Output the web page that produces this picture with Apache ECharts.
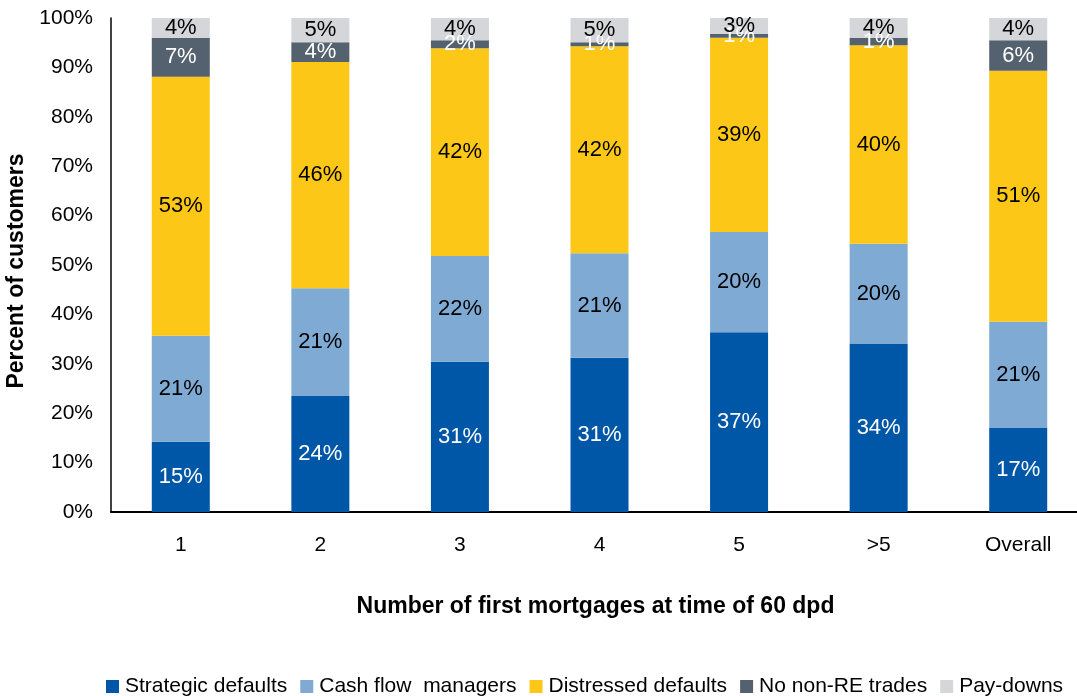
<!DOCTYPE html>
<html>
<head>
<meta charset="utf-8">
<script src="https://cdn.jsdelivr.net/npm/echarts@6/dist/echarts.min.js"></script>
<style>
  html, body { margin: 0; padding: 0; background: #fff; }
  #chart { width: 1077px; height: 696px; }
</style>
</head>
<body>
<div id="chart"></div>
<script>
    var categories = ['1', '2', '3', '4', '5', '>5', 'Overall'];

    // segment heights as drawn
    var strategic   = [14.2, 23.5, 30.4, 31.2, 36.4, 34.1, 17.1];
    var cashFlow    = [21.5, 21.8, 21.4, 21.2, 20.3, 20.2, 21.4];
    var distressed  = [52.4, 45.8, 42.1, 41.9, 39.3, 40.2, 50.8];
    var noNonRE     = [7.9, 4.0, 1.6, 0.8, 0.8, 1.5, 6.2];
    var payDowns    = [4.0, 4.9, 4.5, 4.9, 3.2, 4.0, 4.5];

    // printed percentages
    var strategicLabels  = [15, 24, 31, 31, 37, 34, 17];
    var cashFlowLabels   = [21, 21, 22, 21, 20, 20, 21];
    var distressedLabels = [53, 46, 42, 42, 39, 40, 51];
    var noNonRELabels    = [7, 4, 2, 1, 1, 1, 6];
    var payDownsLabels   = [4, 5, 4, 5, 3, 4, 4];

    var yTicks = [0, 10, 20, 30, 40, 50, 60, 70, 80, 90, 100];

    var FONT = 'Arial, "Liberation Sans", sans-serif';

    function makeSeries(name, values, labels, color, labelColor) {
        return {
            name: name,
            type: 'bar',
            stack: 'total',
            barWidth: 58,
            data: values,
            itemStyle: { color: color },
            label: {
                show: true,
                position: 'inside',
                color: labelColor,
                fontFamily: FONT,
                fontSize: 22,
                formatter: function(p) {
                    return labels[p.dataIndex] + '%';
                }
            }
        };
    }

    var chart = echarts.init(document.getElementById('chart'));

    var option = {
        animation: false,
        textStyle: { fontFamily: FONT },
        grid: {
            left: 111,
            width: 977,
            top: 18,
            bottom: 184,
            containLabel: false,
            outerBoundsMode: 'none'
        },
        legend: {
            left: 101,
            top: 671,
            itemWidth: 13,
            itemHeight: 13,
            itemGap: 13,
            icon: 'rect',
            textStyle: { fontSize: 21, color: '#000', fontFamily: FONT, padding: [0, 0, 0, 1] },
            data: ['Strategic defaults', 'Cash flow  managers', 'Distressed defaults', 'No non-RE trades', 'Pay-downs']
        },
        xAxis: {
            type: 'category',
            data: categories,
            name: 'Number of first mortgages at time of 60 dpd',
            nameLocation: 'middle',
            nameGap: 83,
            nameTextStyle: { fontSize: 23, fontWeight: 'bold', color: '#000', fontFamily: FONT, padding: [0, 8, 0, 0] },
            axisLine: { lineStyle: { color: '#000', width: 2 } },
            axisTick: { show: false },
            axisLabel: { fontSize: 21, color: '#000', margin: 23, fontFamily: FONT }
        },
        yAxis: {
            type: 'value',
            min: yTicks[0],
            max: yTicks[yTicks.length - 1],
            interval: 10,
            name: 'Percent of customers',
            nameLocation: 'middle',
            nameGap: 81,
            nameTextStyle: { fontSize: 23, fontWeight: 'bold', color: '#000', fontFamily: FONT, padding: [0, 12, 0, 0] },
            axisLine: { show: true, lineStyle: { color: '#000', width: 1.5 } },
            axisTick: { show: false },
            splitLine: { show: false },
            axisLabel: {
                fontSize: 21,
                color: '#000',
                margin: 18,
                fontFamily: FONT,
                formatter: '{value}%'
            }
        },
        series: [
            makeSeries('Strategic defaults', strategic, strategicLabels, '#0057A8', '#fff'),
            makeSeries('Cash flow  managers', cashFlow, cashFlowLabels, '#7FAAD3', '#000'),
            makeSeries('Distressed defaults', distressed, distressedLabels, '#FCC717', '#000'),
            makeSeries('No non-RE trades', noNonRE, noNonRELabels, '#54616E', '#fff'),
            makeSeries('Pay-downs', payDowns, payDownsLabels, '#D4D6DA', '#000')
        ]
    };
    chart.setOption(option);
</script>
</body>
</html>
